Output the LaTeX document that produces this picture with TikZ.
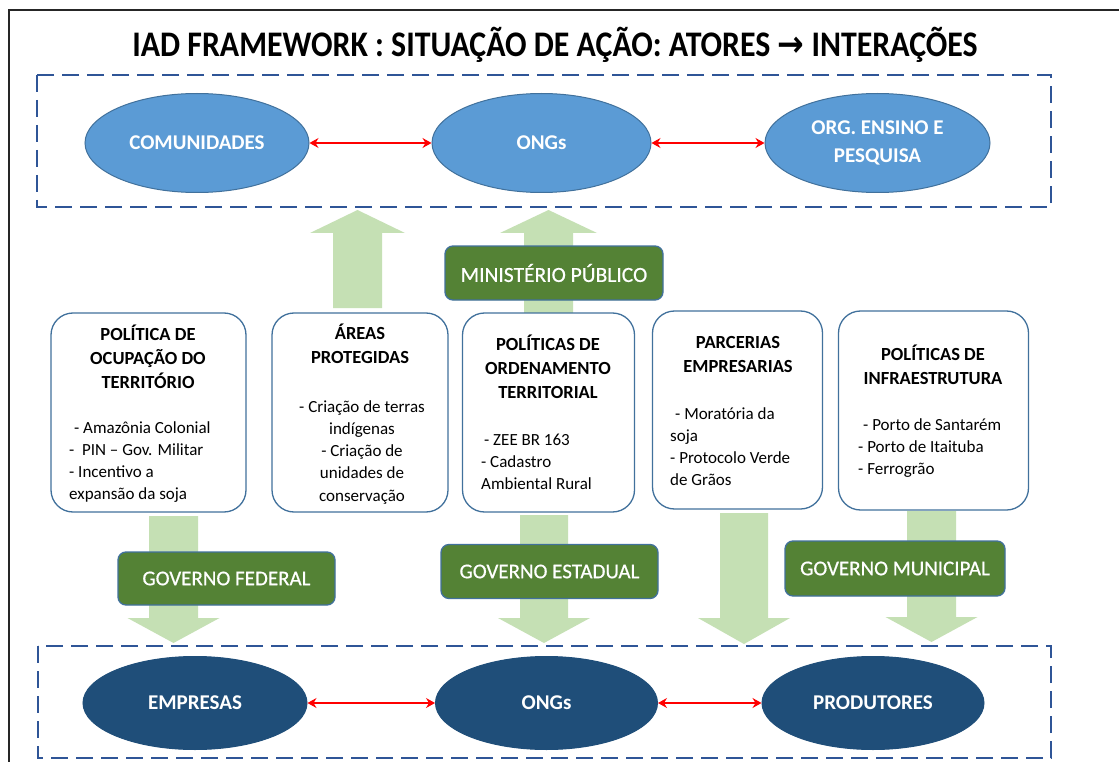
\documentclass[tikz,border=0pt]{standalone}
\usepackage{graphicx}
\usepackage{fontspec}
\setmainfont{Carlito}
\newfontfamily\arrfont{DejaVu Sans}
\newfontfamily\govfont[FakeBold=0.6]{Carlito}
\usetikzlibrary{shapes.geometric,arrows.meta}
\definecolor{topblue}{HTML}{5B9BD5}
\definecolor{edgeblue}{HTML}{41719C}
\definecolor{darkblue}{HTML}{1F4E79}
\definecolor{dashblue}{HTML}{2F5597}
\definecolor{govgreen}{HTML}{548235}
\definecolor{lightgreen}{HTML}{C5E0B4}
\newcommand{\colc}[1]{\begin{tabular}[t]{@{}c@{}}#1\end{tabular}}
\newcommand{\coll}[1]{\begin{tabular}[t]{@{}l@{}}#1\end{tabular}}
\begin{document}
\begin{tikzpicture}[x=1pt,y=-1pt,
  dashbox/.style={draw=dashblue, line width=2.6pt, dash pattern=on 17pt off 8pt},
  topell/.style={ellipse, fill=topblue, draw=edgeblue, line width=1pt, text=white, inner sep=0pt,
    minimum width=224pt, minimum height=99pt, font=\fontsize{21}{28}\selectfont\bfseries, align=center},
  botell/.style={ellipse, fill=darkblue, draw=darkblue, line width=1pt, text=white, inner sep=0pt,
    minimum width=222pt, minimum height=93pt, font=\fontsize{21}{28}\selectfont\bfseries},
  policy/.style={draw=edgeblue, line width=1.3pt, fill=white, rounded corners=22pt, inner sep=0pt},
  govbox/.style={draw=edgeblue, line width=1.3pt, fill=govgreen, rounded corners=8pt, text=white,
    inner sep=0pt, font=\govfont\fontsize{21}{25}\selectfont},
  garrow/.style={fill=lightgreen},
  redarr/.style={draw=red, line width=1.2pt,
    {Stealth[length=9pt,width=10pt,inset=3pt]}-{Stealth[length=9pt,width=10pt,inset=3pt]}},
  head/.style={font=\fontsize{18.5}{24}\selectfont\bfseries, inner sep=0pt, anchor=base},
  body/.style={font=\fontsize{17}{22.3}\selectfont, inner sep=0pt}
]
\useasboundingbox (0,0) rectangle (1119,762);
\fill[white] (0,0) rectangle (1119,762);
% outer frame
\draw[line width=1.8pt, black!85] (9,780) -- (9,10) -- (1130,10);

% title
\node[anchor=base, inner sep=0pt] (title) at (555,57)
  {\fontsize{36}{40}\selectfont\bfseries\scalebox{0.885}[1]{IAD FRAMEWORK : SITUAÇÃO DE AÇÃO: ATORES {\arrfont →} INTERAÇÕES}};

% green block arrows (behind)
\fill[garrow] (333,308) -- (333,233) -- (310,233) -- (357.5,210) -- (405,233) -- (382,233) -- (382,308) -- cycle;
\fill[garrow] (524,314) -- (524,233) -- (500,233) -- (548.5,210) -- (597,233) -- (573,233) -- (573,314) -- cycle;
\fill[garrow] (149,516) -- (198,516) -- (198,618) -- (219.5,618) -- (173.5,643) -- (127.5,618) -- (149,618) -- cycle;
\fill[garrow] (520,515) -- (568,515) -- (568,618) -- (590,618) -- (544,643) -- (498,618) -- (520,618) -- cycle;
\fill[garrow] (720,513) -- (768,513) -- (768,618) -- (790,618) -- (744,644) -- (698,618) -- (720,618) -- cycle;
\fill[garrow] (907,511) -- (956,511) -- (956,617) -- (977.5,617) -- (931.5,642) -- (885.5,617) -- (907,617) -- cycle;

% dashed groups
\draw[dashbox] (37,75) rectangle (1051,207);
\draw[dashbox] (38,646) rectangle (1051,758);

% top actors
\node[topell] (com) at (197,143) {COMUNIDADES};
\node[topell, minimum width=219pt] (ong1) at (541.5,143) {ONGs};
\node[topell, minimum width=225pt] (org) at (877.5,143) {ORG. ENSINO E\\PESQUISA};
\draw[redarr] (com) -- (ong1);
\draw[redarr] (ong1) -- (org);

% bottom actors
\node[botell, minimum width=224pt] (emp) at (195,703) {EMPRESAS};
\node[botell] (ong2) at (546.5,703) {ONGs};
\node[botell] (prod) at (873,703) {PRODUTORES};
\draw[redarr] (emp) -- (ong2);
\draw[redarr] (ong2) -- (prod);

% government boxes
\node[govbox, minimum width=218pt, minimum height=54pt, font=\govfont\fontsize{21.5}{25}\selectfont] (mp) at (554,273) {MINISTÉRIO PÚBLICO};
\node[govbox, minimum width=217pt, minimum height=53pt] (gf) at (226.5,578.5) {GOVERNO FEDERAL};
\node[govbox, minimum width=217pt, minimum height=54pt] (ge) at (549.5,571.5) {GOVERNO ESTADUAL};
\node[govbox, minimum width=220pt, minimum height=55pt] (gm) at (895,568.5) {GOVERNO MUNICIPAL};

% policy boxes
\node[policy, minimum width=195pt, minimum height=199pt] (p1) at (148.5,412.5) {};
\node[head] (p1h) at (148,340) {\colc{POLÍTICA DE\\OCUPAÇÃO DO\\TERRITÓRIO}};
\node[body, anchor=base west] (p1b) at (69,433) {\coll{\hspace{5pt}- Amazônia Colonial\\-\ \ PIN – Gov. Militar\\- Incentivo a\\expansão da soja}};

\node[policy, minimum width=176pt, minimum height=199pt] (p2) at (360,412.5) {};
\node[head] (p2h) at (360,339) {\colc{ÁREAS\\PROTEGIDAS}};
\node[body, anchor=base] (p2b) at (362,412) {\colc{- Criação de terras\\indígenas\\- Criação de\\unidades de\\conservação}};

\node[policy, minimum width=172pt, minimum height=199pt] (p3) at (548.5,412.5) {};
\node[head] (p3h) at (548,350) {\colc{POLÍTICAS DE\\ORDENAMENTO\\TERRITORIAL}};
\node[body, anchor=base west] (p3b) at (481,445) {\coll{\hspace{3pt}- ZEE BR 163\\- Cadastro\\Ambiental Rural}};

\node[policy, minimum width=170pt, minimum height=198pt] (p4) at (737.5,410) {};
\node[head] (p4h) at (738,348) {\colc{PARCERIAS\\EMPRESARIAS}};
\node[body, anchor=base west] (p4b) at (670,419) {\coll{\hspace{5pt}- Moratória da\\soja\\- Protocolo Verde\\de Grãos}};

\node[policy, minimum width=190pt, minimum height=199pt] (p5) at (933.5,410.5) {};
\node[head] (p5h) at (933,360) {\colc{POLÍTICAS DE\\INFRAESTRUTURA}};
\node[body, anchor=base west] (p5b) at (858,430) {\coll{\hspace{5pt}- Porto de Santarém\\- Porto de Itaituba\\- Ferrogrão}};
\end{tikzpicture}
\end{document}
